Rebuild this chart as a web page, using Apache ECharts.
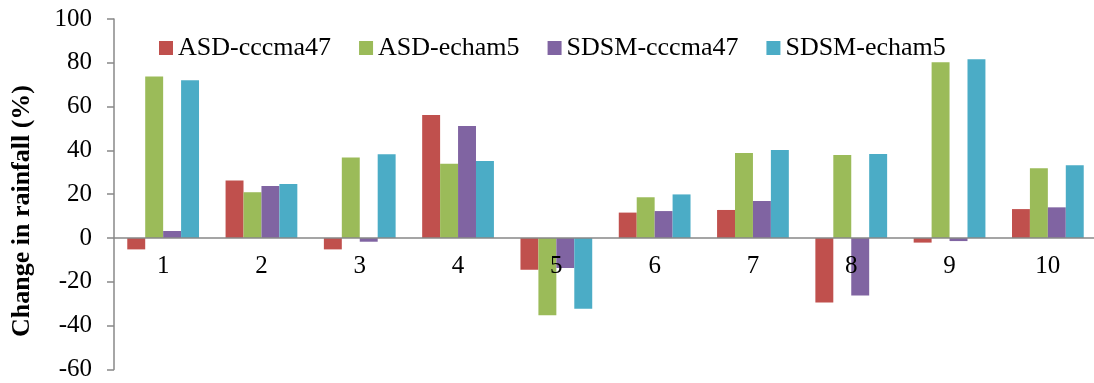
<!DOCTYPE html>
<html>
<head>
<meta charset="utf-8">
<script src="https://cdn.jsdelivr.net/npm/echarts@6/dist/echarts.min.js"></script>
<style>
  html, body { margin: 0; padding: 0; background: #fff; }
  #chart { width: 1094px; height: 383px; }
</style>
</head>
<body>
<div id="chart"></div>
<script>
// Rainfall change (%) per station for each downscaling method / GCM
const categories = ['1', '2', '3', '4', '5', '6', '7', '8', '9', '10'];
const seriesNames = ['ASD-cccma47', 'ASD-echam5', 'SDSM-cccma47', 'SDSM-echam5'];
const asdCccma47  = [-5.2, 26.3, -5.2, 56.2, -14.5, 11.6, 12.8, -29.5, -2.1, 13.2];
const asdEcham5   = [73.8, 20.9, 36.8, 33.9, -35.3, 18.6, 38.8, 37.9, 80.2, 31.8];
const sdsmCccma47 = [3.2, 23.7, -1.7, 51.1, -13.7, 12.3, 16.9, -26.2, -1.4, 14.0];
const sdsmEcham5  = [72.0, 24.7, 38.2, 35.2, -32.3, 19.9, 40.2, 38.4, 81.6, 33.2];
const yTicks = { min: -60, max: 100, interval: 20 };
const colors = ['#C0504D', '#9BBB59', '#8064A2', '#4BACC6'];

const serif = "'Liberation Serif', 'Times New Roman', serif";
const values = [asdCccma47, asdEcham5, sdsmCccma47, sdsmEcham5];

const plotHeight = 350.4;
// lift the category axis (line, ticks, labels) up to the zero line
const zeroOffset = -plotHeight * (0 - yTicks.min) / (yTicks.max - yTicks.min);

const chart = echarts.init(document.getElementById('chart'));
chart.setOption({
  animation: false,
  color: colors,
  textStyle: { fontFamily: serif },
  grid: { left: 114, top: 19, width: 983, height: plotHeight, outerBoundsMode: 'none', containLabel: false },
  legend: {
    data: seriesNames,
    left: 154,
    top: 30,
    icon: 'rect',
    itemWidth: 14,
    itemHeight: 14,
    itemGap: 28,
    textStyle: { fontFamily: serif, fontSize: 26, color: '#000' }
  },
  graphic: [{
    type: 'text',
    x: 22,
    y: 211,
    rotation: Math.PI / 2,
    style: {
      text: 'Change in rainfall (%)',
      font: "bold 26px 'Liberation Serif', 'Times New Roman', serif",
      fill: '#000',
      align: 'center',
      verticalAlign: 'middle'
    }
  }],
  xAxis: {
    type: 'category',
    data: categories,
    position: 'bottom',
    offset: zeroOffset,
    z: 5,
    axisLine: { onZero: false, lineStyle: { color: '#888', width: 1.5 } },
    axisTick: { length: 5, lineStyle: { color: '#888', width: 1.5 } },
    axisLabel: { fontFamily: serif, fontSize: 25, color: '#000', margin: 16 },
    splitLine: { show: false }
  },
  yAxis: {
    type: 'value',
    min: yTicks.min,
    max: yTicks.max,
    interval: yTicks.interval,
    axisLine: { show: true, lineStyle: { color: '#888', width: 1.5 } },
    axisTick: { show: true, length: 7, lineStyle: { color: '#888', width: 1.5 } },
    axisLabel: { fontFamily: serif, fontSize: 25, color: '#000', margin: 22 },
    splitLine: { show: false }
  },
  series: seriesNames.map((name, i) => ({
    name: name,
    type: 'bar',
    data: values[i],
    barGap: '0%',
    barCategoryGap: '27%',
    itemStyle: { color: colors[i] }
  }))
});
</script>
</body>
</html>
